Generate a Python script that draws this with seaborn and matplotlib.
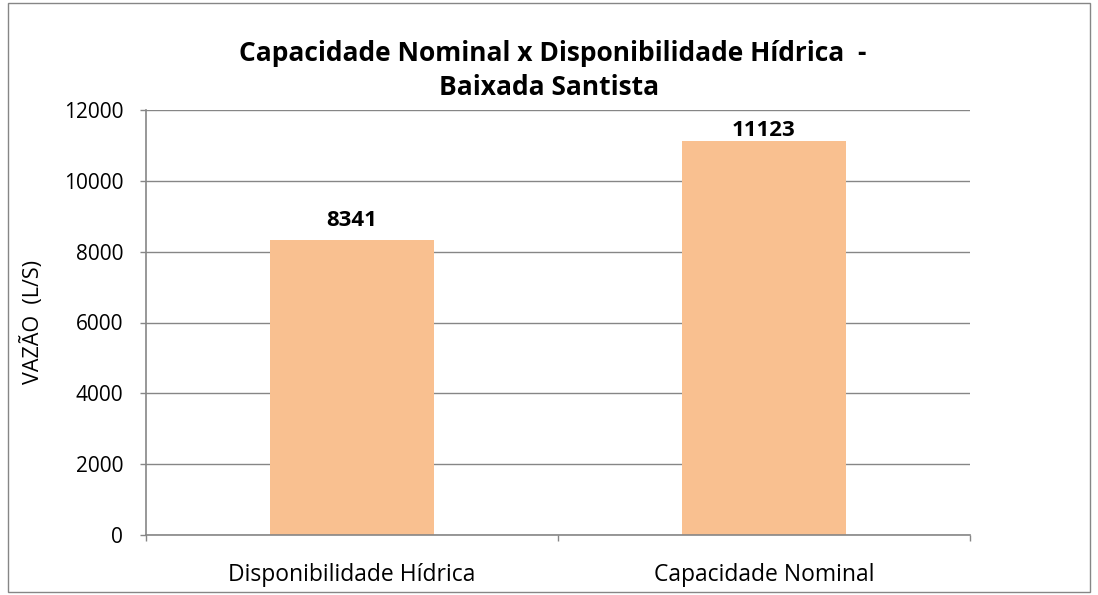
import matplotlib
matplotlib.use("Agg")
import matplotlib.pyplot as plt
import seaborn as sns
import pandas as pd
from matplotlib.patches import Rectangle

categorias = ["Disponibilidade Hídrica", "Capacidade Nominal"]
vazoes = [8341, 11123]
yticks = [0, 2000, 4000, 6000, 8000, 10000, 12000]
titulo = ["Capacidade Nominal x Disponibilidade Hídrica  -", "Baixada Santista"]

sns.set_theme(style="white")
plt.rcParams['font.family'] = ['Open Sans', 'DejaVu Sans']
plt.rcParams['text.color'] = 'black'
plt.rcParams['axes.labelcolor'] = 'black'
plt.rcParams['xtick.color'] = 'black'
plt.rcParams['ytick.color'] = 'black'

cinza = '#868686'
df = pd.DataFrame({'categoria': categorias, 'vazao': vazoes})

fig = plt.figure(figsize=(10.98, 5.95), dpi=100)
ax = fig.add_axes([146 / 1098, 1 - 535 / 595, 824 / 1098, 425 / 595])

sns.barplot(data=df, x='categoria', y='vazao', color='#F9C090', width=0.4,
            saturation=1, edgecolor='none', linewidth=0, ax=ax)

ymax = 12000
ax.set_ylim(0, ymax)
ax.set_yticks(yticks)
ax.set_yticklabels([str(v) for v in yticks], fontsize=15)
ax.set_xlim(-0.5, 1.5)
ax.yaxis.grid(True, color=cinza, linewidth=1)
ax.set_axisbelow(True)
for s in ['top', 'right']:
    ax.spines[s].set_visible(False)
for s in ['left', 'bottom']:
    ax.spines[s].set_color(cinza)
    ax.spines[s].set_linewidth(1.2)
ax.tick_params(axis='y', left=True, length=4.3, color=cinza, width=1, pad=12)
ax.tick_params(axis='x', bottom=True, length=4.3, color=cinza, width=1,
               labelsize=16.5, pad=16)
ax.set_xticks([-0.5, 0, 0.5, 1, 1.5])
ax.set_xticklabels(['', categorias[0], '', categorias[1], ''])
# ticks only at the category boundaries
for i, t in enumerate(ax.xaxis.get_major_ticks()):
    if i in (1, 3):
        t.tick1line.set_visible(False)

ax.set_xlabel('')
ax.set_ylabel('VAZÃO  (L/S)', fontsize=15.5, labelpad=14)

# rótulos acima das barras, mas sem sair da área do gráfico (como no Excel)
por_px = ymax / 425
for i, v in enumerate(vazoes):
    base = min(v + 14 * por_px, ymax - 26 * por_px)
    ax.text(i, base, str(v), ha='center', va='baseline', fontsize=16,
            fontweight='bold')

fig.text(553 / 1098, 1 - 61 / 595, titulo[0], ha='center', va='baseline',
         fontsize=19, fontweight='bold')
fig.text(549 / 1098, 1 - 95 / 595, titulo[1], ha='center', va='baseline',
         fontsize=19, fontweight='bold')

fig.patches.append(Rectangle((8 / 1098, 3 / 595), 1082 / 1098, 589 / 595,
                             transform=fig.transFigure, fill=False,
                             edgecolor=cinza, linewidth=1))

fig.savefig('out.png', dpi=100)
